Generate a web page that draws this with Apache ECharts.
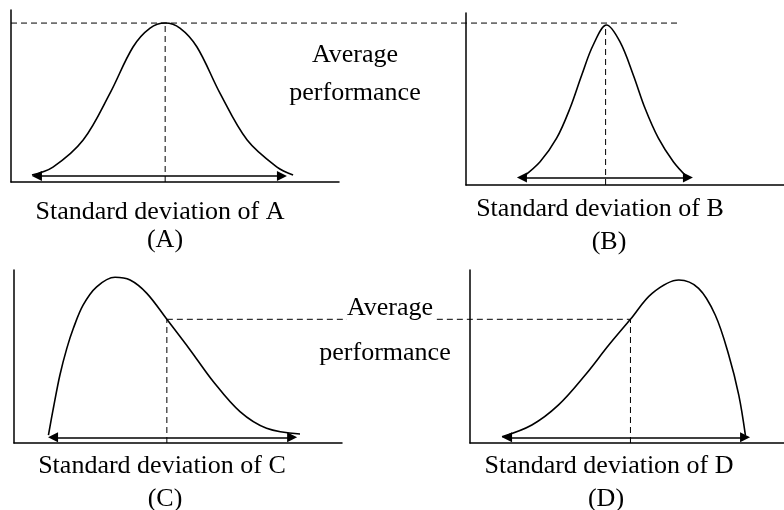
<!DOCTYPE html>
<html>
<head>
<meta charset="utf-8">
<script src="https://cdn.jsdelivr.net/npm/echarts@6/dist/echarts.min.js"></script>
<style>
html, body { margin: 0; padding: 0; background: #fff; }
#main { width: 784px; height: 510px; }
</style>
</head>
<body>
<div id="main"></div>
<script>
// curves, [x, y] in axis units (both axes 0-10)
var curveA = [[0.64,0.41],[1.28,0.87],[2.20,2.44],[3.02,5.17],[3.72,7.85],[4.24,8.95],[4.70,9.24],
              [5.15,8.95],[5.67,7.85],[6.37,5.17],[7.20,2.44],[8.11,0.87],[8.60,0.41]];
var curveB = [[1.80,0.48],[2.33,1.35],[2.85,2.72],[3.27,4.46],[3.64,6.40],[4.00,8.14],[4.42,9.30],
              [4.84,8.33],[5.26,6.40],[5.63,4.46],[6.05,2.72],[6.52,1.35],[6.94,0.48]];
var curveC = [[1.05,0.46],[1.20,2.01],[1.40,3.93],[1.61,5.47],[1.81,6.63],[2.11,7.98],[2.52,9.03],
              [3.08,9.58],[3.54,9.42],[4.05,8.65],[4.66,7.15],[5.37,5.38],[6.08,3.54],[6.89,1.81],
              [7.70,0.85],[8.72,0.52]];
var curveD = [[1.02,0.36],[1.97,1.04],[2.82,2.20],[3.67,3.93],[4.42,5.66],[5.11,7.15],[5.80,8.65],
              [6.65,9.42],[7.28,8.94],[7.81,7.40],[8.24,5.09],[8.56,2.77],[8.77,0.46]];

// average point of each curve [x, y]
var meanA = [4.70, 9.24];
var meanB = [4.39, 9.30];
var meanC = [4.66, 7.15];
var meanD = [5.11, 7.15];
// how far the shared average lines reach, in the A / C axis units
var avgTopEnd = 20.40;
var avgBottomEnd = 18.78;

// spread arrows [xFrom, xTo, y]
var spreadA = [0.79, 8.26, 0.35];
var spreadB = [1.76, 6.98, 0.44];
var spreadC = [1.19, 8.48, 0.33];
var spreadD = [1.18, 8.76, 0.33];

var xNames = ['Standard deviation of A', 'Standard deviation of B', 'Standard deviation of C', 'Standard deviation of D'];
var panelTags = ['(A)', '(B)', '(C)', '(D)'];
var avgWords = ['Average', 'performance'];

var myChart = echarts.init(document.getElementById('main'));

var grids = [
    {left: 11, top: 10, width: 328, height: 172},
    {left: 466, top: 13, width: 318, height: 172},
    {left: 14, top: 270, width: 328, height: 173},
    {left: 470, top: 270, width: 314, height: 173},
    // wide helper grids for the average lines that cross panels
    {left: 11, top: 10, width: 773, height: 172},
    {left: 14, top: 270, width: 770, height: 173}
];

function axisX(i, max, shown) {
    return {gridIndex: i, type: 'value', min: 0, max: max, show: shown,
        axisLine: {show: true, onZero: false, lineStyle: {color: '#000', width: 1.5}},
        axisTick: {show: false}, axisLabel: {show: false}, splitLine: {show: false}};
}
function axisY(i, shown) {
    return {gridIndex: i, type: 'value', min: 0, max: 10, show: shown,
        axisLine: {show: true, onZero: false, lineStyle: {color: '#000', width: 1.5}},
        axisTick: {show: false}, axisLabel: {show: false}, splitLine: {show: false}};
}

function curve(i, data) {
    return {type: 'line', xAxisIndex: i, yAxisIndex: i, data: data, smooth: 0.35,
        showSymbol: false, symbol: 'none', silent: true,
        lineStyle: {color: '#000', width: 1.6}};
}
function dashed(i, data) {
    return {type: 'line', xAxisIndex: i, yAxisIndex: i, data: data,
        showSymbol: false, symbol: 'none', silent: true,
        lineStyle: {color: '#000', width: 1, type: [6, 4]}};
}
function arrow(i, s) {
    return {type: 'lines', coordinateSystem: 'cartesian2d', xAxisIndex: i, yAxisIndex: i,
        symbol: ['triangle', 'triangle'], symbolSize: 10, silent: true,
        lineStyle: {color: '#000', width: 1.5, opacity: 1},
        data: [{coords: [[s[0], s[2]], [s[1], s[2]]]}]};
}

var means = [meanA, meanB, meanC, meanD];
var curves = [curveA, curveB, curveC, curveD];
var spreads = [spreadA, spreadB, spreadC, spreadD];

var series = [];
for (var i = 0; i < 4; i++) {
    series.push(curve(i, curves[i]));
    series.push(dashed(i, [[means[i][0], 0], means[i]]));
    series.push(arrow(i, spreads[i]));
}
series.push(dashed(4, [[0, meanA[1]], [avgTopEnd, meanA[1]]]));
series.push(dashed(5, [meanC, [avgBottomEnd, meanC[1]]]));

function txt(s, x, y, bg) {
    return {type: 'text', x: x, y: y, z: 100,
        style: {text: s, fill: '#000', font: '26px "Liberation Serif", serif',
            textAlign: 'center', textVerticalAlign: 'middle',
            backgroundColor: bg ? '#fff' : null}};
}

var option = {
    animation: false,
    backgroundColor: '#fff',
    grid: grids,
    xAxis: [axisX(0, 10, true), axisX(1, 10, true), axisX(2, 10, true), axisX(3, 10, true),
            axisX(4, 10 * 773 / 328, false), axisX(5, 10 * 770 / 328, false)],
    yAxis: [axisY(0, true), axisY(1, true), axisY(2, true), axisY(3, true),
            axisY(4, false), axisY(5, false)],
    series: series,
    graphic: [
        txt(avgWords[0], 355, 55),
        txt(avgWords[1], 355, 93),
        txt(avgWords[0], 390, 308, true),
        txt(avgWords[1], 385, 353),
        txt(xNames[0], 160, 212),
        txt(panelTags[0], 165, 240),
        txt(xNames[1], 600, 209),
        txt(panelTags[1], 609, 242),
        txt(xNames[2], 162, 466),
        txt(panelTags[2], 165, 499),
        txt(xNames[3], 609, 466),
        txt(panelTags[3], 606, 499)
    ]
};

myChart.setOption(option);
</script>
</body>
</html>
